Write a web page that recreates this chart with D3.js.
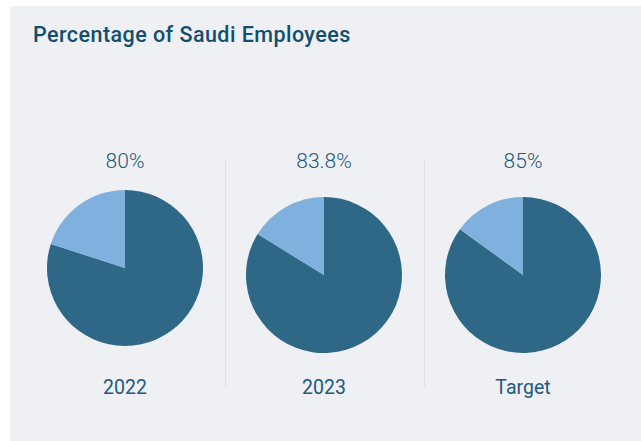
<!DOCTYPE html>
<html>
<head>
<meta charset="utf-8">
<script src="https://cdn.jsdelivr.net/npm/d3@7/dist/d3.min.js"></script>
<style>
  html, body { margin: 0; padding: 0; background: #ffffff; }
  svg { display: block; }
</style>
</head>
<body>
<svg id="chart" width="641" height="441"></svg>
<script>
// Share of Saudi employees per period
const categories = ["2022", "2023", "Target"];
const saudiShare = [80, 83.8, 85];
const valueLabels = ["80%", "83.8%", "85%"];

const width = 641, height = 441;
const svg = d3.select("#chart");
const font = "Roboto, 'Noto Sans', sans-serif";

// panel background
svg.append("rect")
  .attr("x", 10).attr("y", 6)
  .attr("width", width - 10).attr("height", height - 6)
  .attr("fill", "#eef0f4");

svg.append("text")
  .attr("x", 33).attr("y", 42)
  .attr("font-family", font)
  .attr("font-size", 21.5)
  .attr("font-weight", 500)
  .attr("letter-spacing", 0.45)
  .attr("fill", "#134e6f")
  .text("Percentage of Saudi Employees");

// column positions
const x = d3.scalePoint().domain(categories).range([125, 523]);
const colStep = x.step();
const radius = 78;
const pieCy = [268, 275, 275];

const pie = d3.pie().sort(null).value(d => d.v)
  .startAngle(0).endAngle(2 * Math.PI);
const arc = d3.arc().innerRadius(0).outerRadius(radius);
const colors = { saudi: "#2f6887", other: "#80b0de" };

// separators between columns
categories.slice(1).forEach(c => {
  const sx = Math.round(x(c) - colStep / 2) + 0.5;
  svg.append("line")
    .attr("x1", sx).attr("x2", sx)
    .attr("y1", 160).attr("y2", 387)
    .attr("stroke", "#dde0e6").attr("stroke-width", 1);
});

categories.forEach((c, i) => {
  const g = svg.append("g")
    .attr("transform", `translate(${x(c)},${pieCy[i]})`);
  const data = [
    { k: "saudi", v: saudiShare[i] },
    { k: "other", v: 100 - saudiShare[i] }
  ];
  g.selectAll("path")
    .data(pie(data))
    .join("path")
    .attr("d", arc)
    .attr("fill", d => colors[d.data.k]);

  svg.append("text")
    .attr("x", x(c)).attr("y", 168)
    .attr("text-anchor", "middle")
    .attr("font-family", font)
    .attr("font-size", 21)
    .attr("font-weight", 300)
    .attr("fill", "#1f5a7c")
    .text(valueLabels[i]);

  svg.append("text")
    .attr("x", x(c)).attr("y", 394)
    .attr("text-anchor", "middle")
    .attr("font-family", font)
    .attr("font-size", 19.5)
    .attr("font-weight", 400)
    .attr("fill", "#1f5a7c")
    .text(c);
});
</script>
</body>
</html>
